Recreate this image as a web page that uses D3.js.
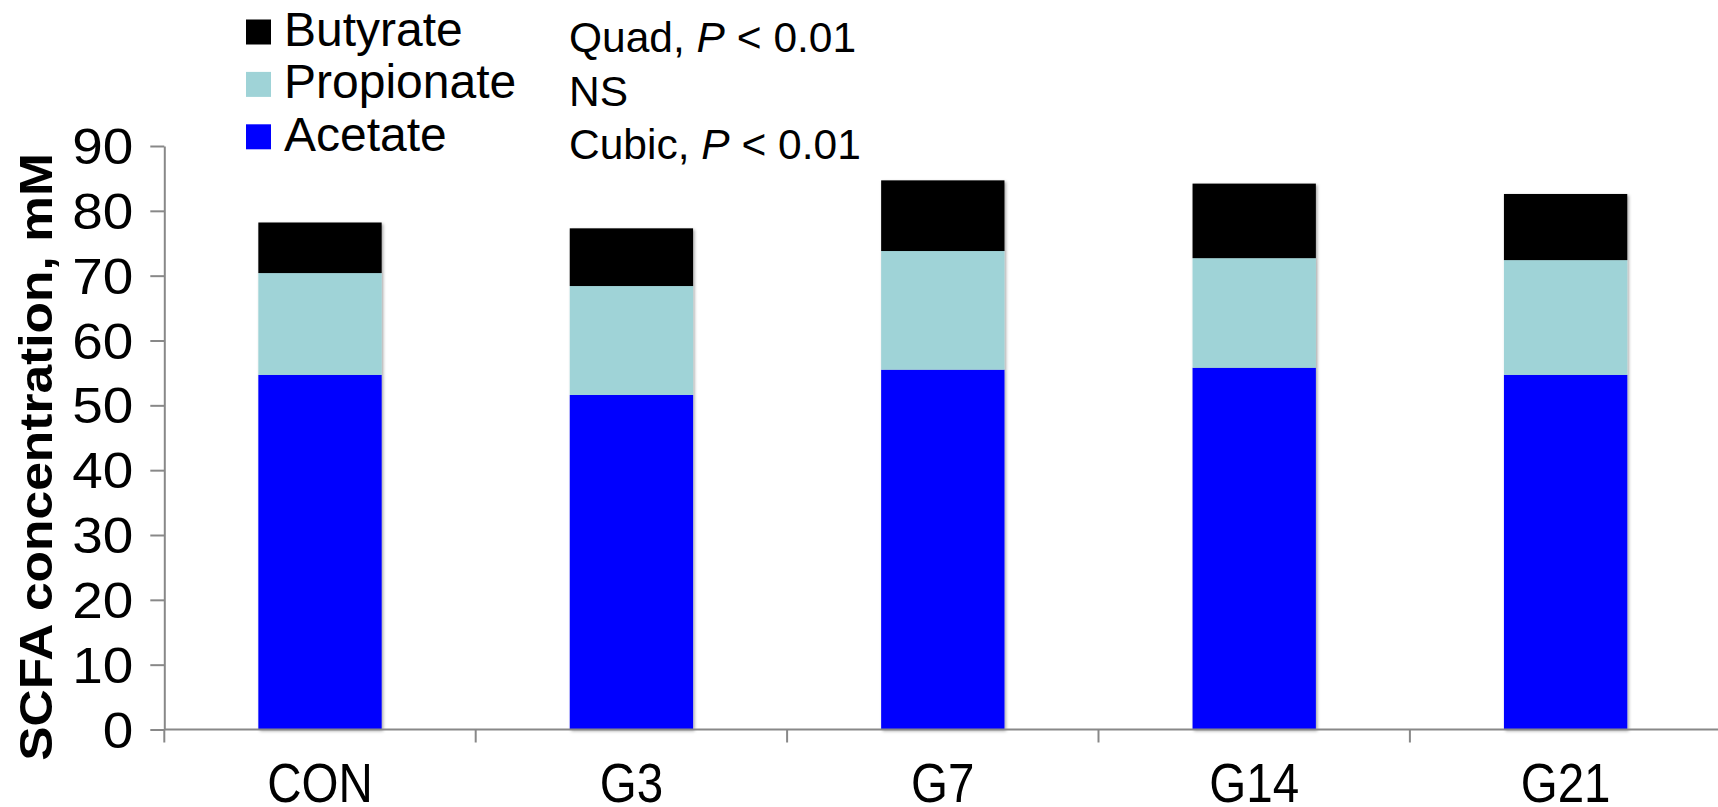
<!DOCTYPE html>
<html>
<head>
<meta charset="utf-8">
<script src="https://cdn.jsdelivr.net/npm/d3@7"></script>
<style>
  html, body { margin: 0; padding: 0; background: #fff; }
  svg { display: block; font-family: "Liberation Sans", Arial, sans-serif; }
</style>
</head>
<body>
<svg id="chart" width="1718" height="807"></svg>
<script>
// Groups on the x axis
const groups = ["CON", "G3", "G7", "G14", "G21"];
// SCFA concentrations (mM) per group
const acetate    = [54.7, 51.6, 55.5, 55.8, 54.7];
const propionate = [15.7, 16.8, 18.3, 16.9, 17.7];
const butyrate   = [7.8, 8.9, 10.9, 11.5, 10.2];
// Series, stacked bottom to top
const seriesNames = ["Acetate", "Propionate", "Butyrate"];
const seriesColors = ["#0000ff", "#9fd3d7", "#000000"];
// Contrast statements listed next to the legend (top to bottom)
const contrastLabels = [
  ["Quad, ", "P", " < 0.01"],
  ["NS", "", ""],
  ["Cubic, ", "P", " < 0.01"]
];
const yTicks = [0, 10, 20, 30, 40, 50, 60, 70, 80, 90];

const svg = d3.select("#chart");
const axisColor = "#888888";

const x0 = 164.3, step = 311.4;
const x = d3.scaleBand()
  .domain(groups)
  .range([x0, x0 + step * groups.length])
  .paddingInner(0.604)
  .paddingOuter(0.302);
const y = d3.scaleLinear().domain([0, 90]).range([729.5, 146]);

const rows = groups.map((g, i) => ({
  group: g, Acetate: acetate[i], Propionate: propionate[i], Butyrate: butyrate[i]
}));
const stacked = d3.stack().keys(seriesNames)(rows);

// soft shadow beneath the bars
const defs = svg.append("defs");
const f = defs.append("filter").attr("id", "shadow")
  .attr("x", "-10%").attr("y", "-10%").attr("width", "130%").attr("height", "130%");
f.append("feDropShadow").attr("dx", 1.5).attr("dy", 1.5)
  .attr("stdDeviation", 1.6).attr("flood-color", "#000").attr("flood-opacity", 0.35);

const barsG = svg.append("g").attr("filter", "url(#shadow)");
stacked.forEach((layer, li) => {
  barsG.append("g").attr("fill", seriesColors[li])
    .selectAll("rect").data(layer).join("rect")
    .attr("x", d => x(d.data.group))
    .attr("width", x.bandwidth())
    .attr("y", d => y(d[1]))
    .attr("height", d => y(d[0]) - y(d[1]));
});

// y axis
const yAxis = svg.append("g")
  .attr("transform", `translate(${x0},0)`)
  .call(d3.axisLeft(y).tickValues(yTicks).tickSize(14).tickPadding(0).tickSizeOuter(0));
yAxis.select(".domain").attr("stroke", axisColor).attr("stroke-width", 2);
yAxis.selectAll(".tick line").attr("stroke", axisColor).attr("stroke-width", 2);
// tick labels, set slightly wide
yAxis.selectAll(".tick text")
  .attr("x", null).attr("dy", null)
  .attr("fill", "#000").attr("font-size", 49)
  .attr("font-family", "Liberation Sans, Arial, sans-serif")
  .attr("transform", "translate(-31,17.5) scale(1.12,1.02)");

// x axis: line along the baseline, tick marks between groups
const xAxisG = svg.append("g");
xAxisG.append("line")
  .attr("x1", x0).attr("x2", x0 + step * groups.length)
  .attr("y1", y(0)).attr("y2", y(0))
  .attr("stroke", axisColor).attr("stroke-width", 2);
const bounds = d3.range(groups.length + 1).map(i => x0 + step * i);
xAxisG.selectAll("line.sep").data(bounds).join("line")
  .attr("class", "sep")
  .attr("x1", d => d).attr("x2", d => d)
  .attr("y1", y(0)).attr("y2", y(0) + 13)
  .attr("stroke", axisColor).attr("stroke-width", 2);
xAxisG.selectAll("text").data(groups).join("text")
  .attr("transform", d => `translate(${x(d) + x.bandwidth() / 2},802) scale(1,1.16)`)
  .attr("text-anchor", "middle")
  .attr("font-size", 47.5)
  .text(d => d);

// y axis title
svg.append("text")
  .attr("transform", "translate(52,457) rotate(-90) scale(1.12,1)")
  .attr("text-anchor", "middle")
  .attr("font-size", 46)
  .attr("font-weight", "bold")
  .text("SCFA concentration, mM");

// legend (top row is the top of the stack)
const legendOrder = [2, 1, 0];
const legend = svg.append("g");
legendOrder.forEach((si, r) => {
  const cy = 32 + r * 52.4;
  legend.append("rect")
    .attr("x", 246).attr("y", cy - 12.5)
    .attr("width", 25).attr("height", 25)
    .attr("fill", seriesColors[si]);
  legend.append("text")
    .attr("x", 284).attr("y", cy + 14)
    .attr("font-size", 48)
    .text(seriesNames[si]);
});

// contrast annotations
contrastLabels.forEach((parts, r) => {
  const t = svg.append("text")
    .attr("x", 569).attr("y", 52 + r * 53.5)
    .attr("font-size", 42.5);
  t.append("tspan").text(parts[0]);
  if (parts[1]) t.append("tspan").attr("font-style", "italic").text(parts[1]);
  if (parts[2]) t.append("tspan").text(parts[2]);
});
</script>
</body>
</html>
